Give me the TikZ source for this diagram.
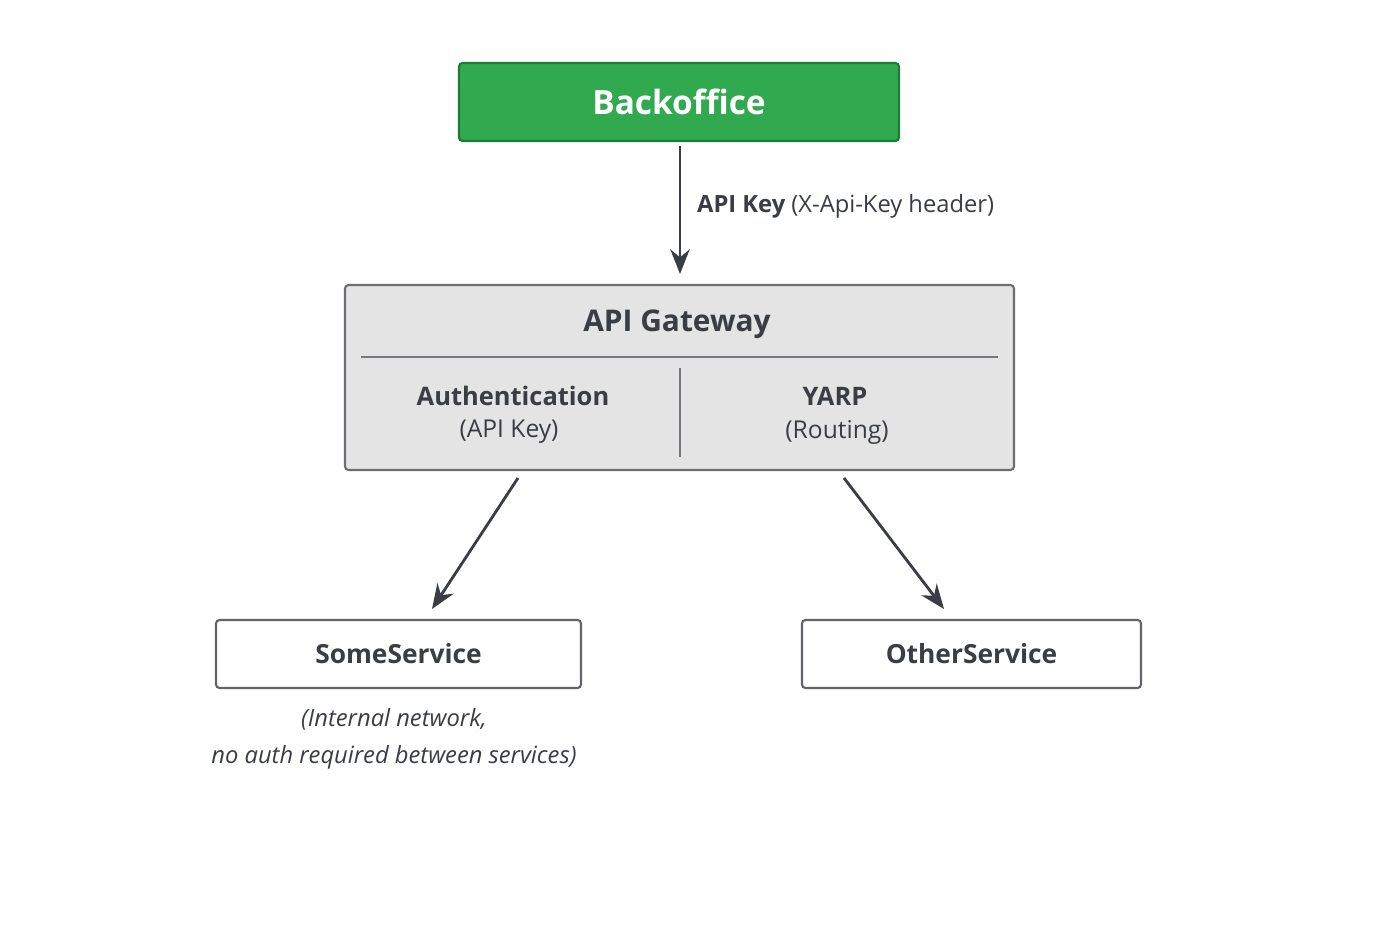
\documentclass[tikz,border=0pt]{standalone}
\usepackage{fontspec}
\setmainfont{Open Sans}
\usetikzlibrary{arrows.meta,positioning}
\definecolor{boGreen}{HTML}{30A94F}
\definecolor{boEdge}{HTML}{1E7A35}
\definecolor{gwFill}{HTML}{E4E4E4}
\definecolor{ink}{HTML}{3A3D44}
\begin{document}
\begin{tikzpicture}[x=0.02cm,y=-0.02cm,>={Stealth[length=14pt,width=11pt]},
	box/.style={draw=ink!80,line width=1.2pt,rounded corners=2pt,inner sep=0pt},
	link/.style={->,draw=ink,line width=1.6pt},
	txt/.style={text=ink,inner sep=0pt}]

	%%% Frame
	\fill[white] (0,0) rectangle (1400,933);

	%%% Backoffice
	\node[box,draw=boEdge,fill=boGreen,minimum width=440*0.02cm,minimum height=78*0.02cm,
		text=white,font=\fontsize{19}{22}\selectfont\bfseries] (backoffice) at (679,102) {Backoffice};

	%%% Gateway
	\node[box,draw=ink!75,fill=gwFill,minimum width=669*0.02cm,minimum height=185*0.02cm] (gateway) at (679.5,377.5) {};
	\node[txt,font=\fontsize{17}{20}\selectfont\bfseries] (gwtitle) at (677,324) {API Gateway};
	\draw[ink!70,line width=0.8pt] (361,357) -- (998,357);
	\draw[ink!70,line width=0.8pt] (680,368) -- (680,457);
	\node[txt,font=\fontsize{14.5}{17}\selectfont\bfseries] (auth) at (513,396) {Authentication};
	\node[txt,font=\fontsize{14}{17}\selectfont] (authsub) at (509,432) {(API Key)};
	\node[txt,font=\fontsize{14.5}{17}\selectfont\bfseries] (yarp) at (835,396) {YARP};
	\node[txt,font=\fontsize{14}{17}\selectfont] (yarpsub) at (837,432) {(Routing)};

	%%% Services
	\node[box,fill=white,minimum width=365*0.02cm,minimum height=68*0.02cm,
		text=ink,font=\fontsize{15}{18}\selectfont\bfseries] (some) at (398.5,654) {SomeService};
	\node[box,fill=white,minimum width=339*0.02cm,minimum height=68*0.02cm,
		text=ink,font=\fontsize{15}{18}\selectfont\bfseries] (other) at (971.5,654) {OtherService};
	\node[txt,align=center,font=\fontsize{13.5}{21}\selectfont\itshape] (note) at (394,739)
		{(Internal network,\\no auth required between services)};

	%% Connectors
	\coordinate (gwA) at (518,478);
	\coordinate (gwB) at (844,478);
	\coordinate (someIn) at (432,609);
	\coordinate (otherIn) at (944,609);
	\draw[link] (backoffice.south -| 680,0) ++(0,4) -- (680,274) coordinate (gwIn)
		node[pos=0.47,right=9pt,txt,font=\fontsize{13.5}{16}\selectfont] (keylabel) {\textbf{API Key} (X-Api-Key header)};
	\draw[link] (gwA) -- (someIn);
	\draw[link] (gwB) -- (otherIn);
\end{tikzpicture}
\end{document}
